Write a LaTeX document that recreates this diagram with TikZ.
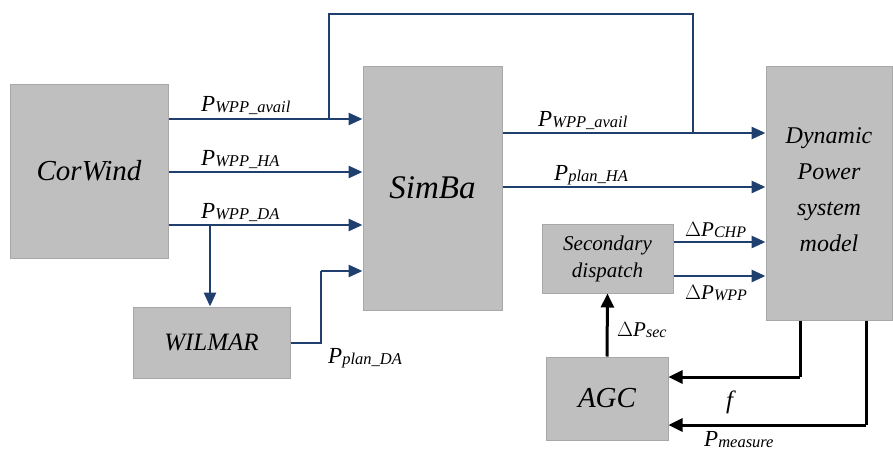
\documentclass[tikz,border=0pt]{standalone}
\usepackage{fontspec}
\setmainfont{Liberation Serif}
\usetikzlibrary{arrows.meta}
\definecolor{boxgray}{HTML}{BFBFBF}
\definecolor{boxedge}{HTML}{A8A8A8}
\definecolor{navy}{HTML}{1F3F6E}
\newcommand{\fs}[2]{\fontsize{#1}{#2}\selectfont}
\newcommand{\lbl}[1]{{\fs{23}{23}\itshape P}{\fs{16.5}{16.5}\itshape\raisebox{-1pt}{#1}}}
\newcommand{\dlbl}[1]{{\fs{21}{21}$\Delta$\itshape P}{\fs{16}{16}\itshape\raisebox{-1pt}{#1}}}
\begin{document}
\begin{tikzpicture}[x=1pt,y=-1pt,
  blk/.style={draw=boxedge,line width=1pt,fill=boxgray,inner sep=0pt,align=center,font=\itshape},
  bl/.style={draw=navy,line width=2.8pt,-{Triangle[length=14pt,width=12pt]}},
  bln/.style={draw=navy,line width=2.8pt},
  bk/.style={draw=black,line width=3pt,-{Triangle[length=14pt,width=13pt]}},
  bkn/.style={draw=black,line width=3pt},
  lab/.style={inner sep=0pt}]
\useasboundingbox (0,0) rectangle (893,452);
% boxes
\node[blk,minimum width=158pt,minimum height=174pt,font=\fs{29}{29}\itshape] (cw) at (89,171) {CorWind};
\node[blk,minimum width=139pt,minimum height=244pt,font=\fs{33}{33}\itshape] (sb) at (432.5,188) {SimBa};
\node[blk,minimum width=126pt,minimum height=254pt] (dp) at (829,193) {};
\node[inner sep=0pt,align=center,font=\fs{24}{36}\itshape] (dpt) at (829,190) {Dynamic\\Power\\system\\model};
\node[blk,minimum width=157pt,minimum height=71pt,font=\fs{25}{25}\itshape] (wm) at (211.5,342.5) {WILMAR};
\node[blk,minimum width=131pt,minimum height=69pt,font=\fs{21}{27}\itshape] (sd) at (607.5,258.5) {Secondary\\dispatch};
\node[blk,minimum width=122pt,minimum height=83pt,font=\fs{29}{29}\itshape] (agc) at (607,398.5) {AGC};
% helper coordinates
\coordinate (ja) at (329,119);
\coordinate (jb) at (693,133);
\coordinate (jd) at (210,225);
\coordinate (jw) at (321,343);
% CorWind -> SimBa
\draw[bl] (cw.east |- ja) -- (sb.west |- ja);
\draw[bl] (cw.east |- 0,172) -- (sb.west |- 0,172);
\draw[bl] (cw.east |- jd) -- (sb.west |- jd);
\draw[bl] (jd) -- (wm.north -| jd);
\draw[bln] (wm.east |- jw) -- (jw) -- (321,271);
\draw[bl] (321,271) -- (sb.west |- 0,271);
% SimBa -> Dynamic
\draw[bl] (sb.east |- jb) -- (dp.west |- jb);
\draw[bl] (sb.east |- 0,187) -- (dp.west |- 0,187);
\draw[bln] (ja) -- (329,14) -- (693,14) -- (jb);
% Secondary -> Dynamic
\draw[bl] (sd.east |- 0,242) -- (dp.west |- 0,242);
\draw[bl] (sd.east |- 0,276) -- (dp.west |- 0,276);
% AGC -> secondary
\draw[bk] (agc.north) -- (sd.south);
% Dynamic -> AGC
\draw[bkn] (dp.south -| 800,0) -- (800,377);
\draw[bk] (800,377) -- (agc.east |- 0,377);
\draw[bkn] (dp.south -| 866,0) -- (866,425);
\draw[bk] (866,425) -- (agc.east |- 0,425);
% labels
\node[lab,anchor=base west] (l1) at (201,111) {\lbl{WPP\_avail}};
\node[lab,anchor=base west] (l2) at (201,165) {\lbl{WPP\_HA}};
\node[lab,anchor=base west] (l3) at (201,218) {\lbl{WPP\_DA}};
\node[lab,anchor=base west] (l4) at (328,363) {\lbl{plan\_DA}};
\node[lab,anchor=base west] (l5) at (538,126) {\lbl{WPP\_avail}};
\node[lab,anchor=base west] (l6) at (554,180) {\lbl{plan\_HA}};
\node[lab,anchor=base west] (l7) at (685,236) {\dlbl{CHP}};
\node[lab,anchor=base west] (l8) at (685,299) {\dlbl{WPP}};
\node[lab,anchor=base west] (l9) at (617,336) {\dlbl{sec}};
\node[lab,anchor=base west,font=\fs{25}{25}\itshape] (l10) at (726,408) {f};
\node[lab,anchor=base west] (l11) at (704,446) {\lbl{measure}};
\end{tikzpicture}
\end{document}
